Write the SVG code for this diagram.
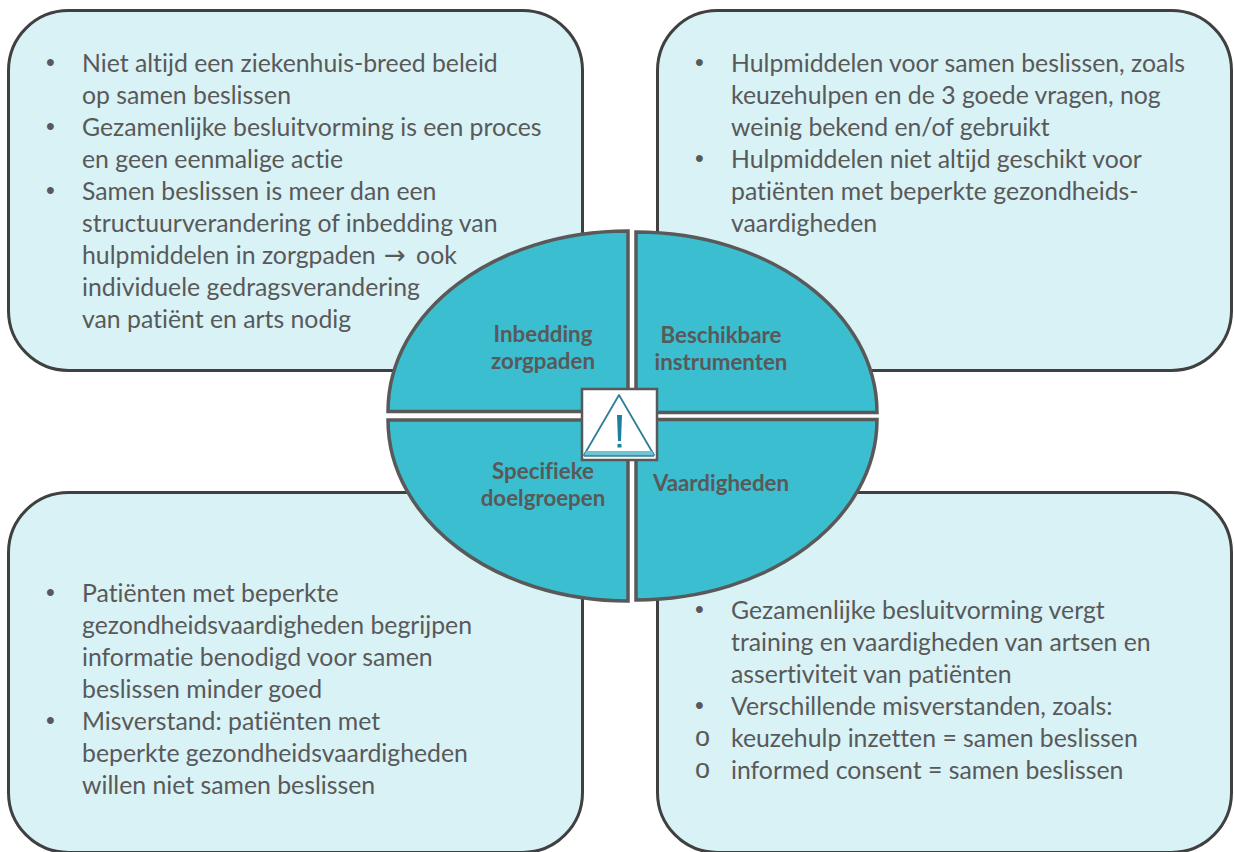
<svg xmlns="http://www.w3.org/2000/svg" width="1234" height="852" viewBox="0 0 1234 852">
<style>
.box{fill:#d8f2f6;stroke:#404040;stroke-width:3}
.seg{fill:#3bbecf;stroke:#595959;stroke-width:3.5}
text{font-family:"Lato","Open Sans",sans-serif;font-size:24.8px;fill:#595959;font-variant-ligatures:none}
.b{font-weight:700;font-size:22.3px;text-anchor:middle}
.d{font-family:"Liberation Sans",sans-serif;font-size:25px}
.o{font-family:"Liberation Sans",sans-serif;font-size:27px}
.a{font-family:"DejaVu Sans",sans-serif;font-size:26px}
</style>
<rect width="1234" height="852" fill="#fff"/>
<g id="box-tl"><rect class="box" x="8.500" y="10.500" width="574" height="360" rx="60"/>
<text class="d" x="46" y="71">•</text><text x="82" y="72">Niet altijd een ziekenhuis-breed beleid</text>
<text x="82" y="104">op samen beslissen</text>
<text class="d" x="46" y="135">•</text><text x="82" y="136">Gezamenlijke besluitvorming is een proces</text>
<text x="82" y="168">en geen eenmalige actie</text>
<text class="d" x="46" y="199">•</text><text x="82" y="200">Samen beslissen is meer dan een</text>
<text x="82" y="232">structuurverandering of inbedding van</text>
<text x="82" y="264">hulpmiddelen in zorgpaden <tspan class="a" dx="2">→</tspan><tspan dx="4"> ook</tspan></text>
<text x="82" y="296">individuele gedragsverandering</text>
<text x="82" y="328">van patiënt en arts nodig</text></g>
<g id="box-tr"><rect class="box" x="657.500" y="10.500" width="574" height="360" rx="60"/>
<text class="d" x="695" y="71">•</text><text x="731" y="72">Hulpmiddelen voor samen beslissen, zoals</text>
<text x="731" y="104">keuzehulpen en de 3 goede vragen, nog</text>
<text x="731" y="136">weinig bekend en/of gebruikt</text>
<text class="d" x="695" y="167">•</text><text x="731" y="168">Hulpmiddelen niet altijd geschikt voor</text>
<text x="731" y="200">patiënten met beperkte gezondheids-</text>
<text x="731" y="232">vaardigheden</text></g>
<g id="box-bl"><rect class="box" x="8.500" y="492.500" width="574" height="360" rx="60"/>
<text class="d" x="46" y="601">•</text><text x="82" y="602">Patiënten met beperkte</text>
<text x="82" y="634">gezondheidsvaardigheden begrijpen</text>
<text x="82" y="666">informatie benodigd voor samen</text>
<text x="82" y="698">beslissen minder goed</text>
<text class="d" x="46" y="729">•</text><text x="82" y="730">Misverstand: patiënten met</text>
<text x="82" y="762">beperkte gezondheidsvaardigheden</text>
<text x="82" y="794">willen niet samen beslissen</text></g>
<g id="box-br"><rect class="box" x="657.500" y="492.500" width="574" height="360" rx="60"/>
<text class="d" x="695" y="618">•</text><text x="731" y="619">Gezamenlijke besluitvorming vergt</text>
<text x="731" y="651">training en vaardigheden van artsen en</text>
<text x="731" y="683">assertiviteit van patiënten</text>
<text class="d" x="695" y="714">•</text><text x="731" y="715">Verschillende misverstanden, zoals:</text>
<text class="o" x="695" y="746">o</text><text x="731" y="747">keuzehulp inzetten = samen beslissen</text>
<text class="o" x="695" y="778">o</text><text x="731" y="779">informed consent = samen beslissen</text></g>
<g id="seg-tl"><path class="seg" d="M628 231V411.500H388C388 311 495 231 628 231Z"/>
<text class="b" x="543" y="342">Inbedding</text><text class="b" x="543" y="369">zorgpaden</text></g>
<g id="seg-tr"><path class="seg" d="M636 232V412.500H877C877 312 769 232 636 232Z"/>
<text class="b" x="721" y="343">Beschikbare</text><text class="b" x="721" y="370">instrumenten</text></g>
<g id="seg-bl"><path class="seg" d="M628 601V420H388C388 520 495 601 628 601Z"/>
<text class="b" x="543" y="479">Specifieke</text><text class="b" x="543" y="506">doelgroepen</text></g>
<g id="seg-br"><path class="seg" d="M636 600V419.500H877C877 520 769 600 636 600Z"/>
<text class="b" x="721" y="491">Vaardigheden</text></g>
<g id="warning"><rect x="582" y="389" width="75" height="71" fill="#fff" stroke="#595959" stroke-width="2.500"/>
<path d="M619 395L654 455H584Z" fill="#fff" stroke="#2f7f99" stroke-width="1.800" stroke-linejoin="round"/>
<path d="M586 451H652L654 456H584Z" fill="#6fc4d2"/>
<path d="M584 456H654" stroke="#2f7f99" stroke-width="1.500"/>
<path d="M617 415H622L621 441H618Z" fill="#1f7f9f"/><rect x="617.500" y="444" width="4" height="3.500" fill="#1f7f9f"/></g>
</svg>
